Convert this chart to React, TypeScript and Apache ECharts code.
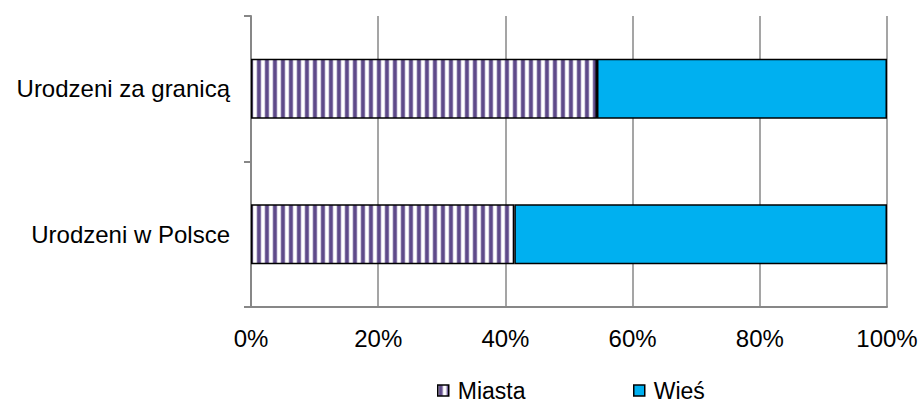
import React, { useEffect, useRef } from "react";
import * as echarts from "echarts";

const categories = ["Urodzeni w Polsce", "Urodzeni za granicą"];
const miasta = [41.4, 54.4];
const wies = [58.6, 45.6];
const xTicks = [0, 20, 40, 60, 80, 100];

const stripeSvg =
  '<svg xmlns="http://www.w3.org/2000/svg" width="7.5" height="10">' +
  '<rect x="0" y="0" width="7.5" height="10" fill="#ffffff"/>' +
  '<rect x="0.5" y="0" width="4.5" height="10" fill="#b3a9ca"/>' +
  '<rect x="1.2" y="0" width="3.1" height="10" fill="#5e4a89"/>' +
  "</svg>";
const stripeUrl = "data:image/svg+xml;charset=utf-8," + encodeURIComponent(stripeSvg);

export default function App() {
  const ref = useRef<HTMLDivElement>(null);
  useEffect(() => {
    if (!ref.current) return;
    const chart = echarts.init(ref.current, null, { renderer: "svg" });
    const font = "'Liberation Sans', Arial, sans-serif";
    const stripe = { image: stripeUrl, repeat: "repeat" } as any;
    const legendCommon = {
      top: 379,
      icon: "rect",
      itemWidth: 11,
      itemHeight: 11,
      itemGap: 0,
      padding: 0,
      itemStyle: { borderColor: "#000", borderWidth: 1.5 },
      textStyle: {
        fontSize: 23,
        lineHeight: 18,
        color: "#000",
        fontFamily: font,
        padding: [0, 0, 0, 4],
      },
    };
    chart.setOption({
      animation: false,
      textStyle: { fontFamily: font },
      grid: { left: 251, right: 35, top: 16, bottom: 96 },
      legend: [
        { ...legendCommon, data: ["Miasta"], left: 437 },
        { ...legendCommon, data: ["Wieś"], left: 633 },
      ],
      xAxis: {
        type: "value",
        min: 0,
        max: 100,
        interval: 20,
        axisLine: { show: true, lineStyle: { color: "#878787", width: 2 } },
        axisTick: { show: false },
        splitLine: { show: true, lineStyle: { color: "#878787", width: 1.5 } },
        axisLabel: {
          formatter: (v: number) => (xTicks.includes(v) ? v + "%" : ""),
          fontSize: 24,
          color: "#000",
          margin: 19,
          fontFamily: font,
        },
      },
      yAxis: {
        type: "category",
        data: categories,
        axisLine: { show: true, lineStyle: { color: "#878787", width: 2 } },
        axisTick: { show: true, length: 7, lineStyle: { color: "#878787", width: 2 } },
        axisLabel: { fontSize: 24, color: "#000", margin: 21, fontFamily: font },
      },
      series: [
        {
          name: "Miasta",
          type: "bar",
          stack: "total",
          barWidth: 60,
          data: miasta,
          itemStyle: { color: stripe, borderColor: "#000", borderWidth: 1.5 },
        },
        {
          name: "Wieś",
          type: "bar",
          stack: "total",
          barWidth: 60,
          data: wies,
          itemStyle: { color: "#00b0f0", borderColor: "#000", borderWidth: 1.5 },
        },
      ],
    });
    return () => chart.dispose();
  }, []);
  return (
    <div
      ref={ref}
      style={{ position: "fixed", left: 0, top: 0, width: 922, height: 403, background: "#fff" }}
    />
  );
}
